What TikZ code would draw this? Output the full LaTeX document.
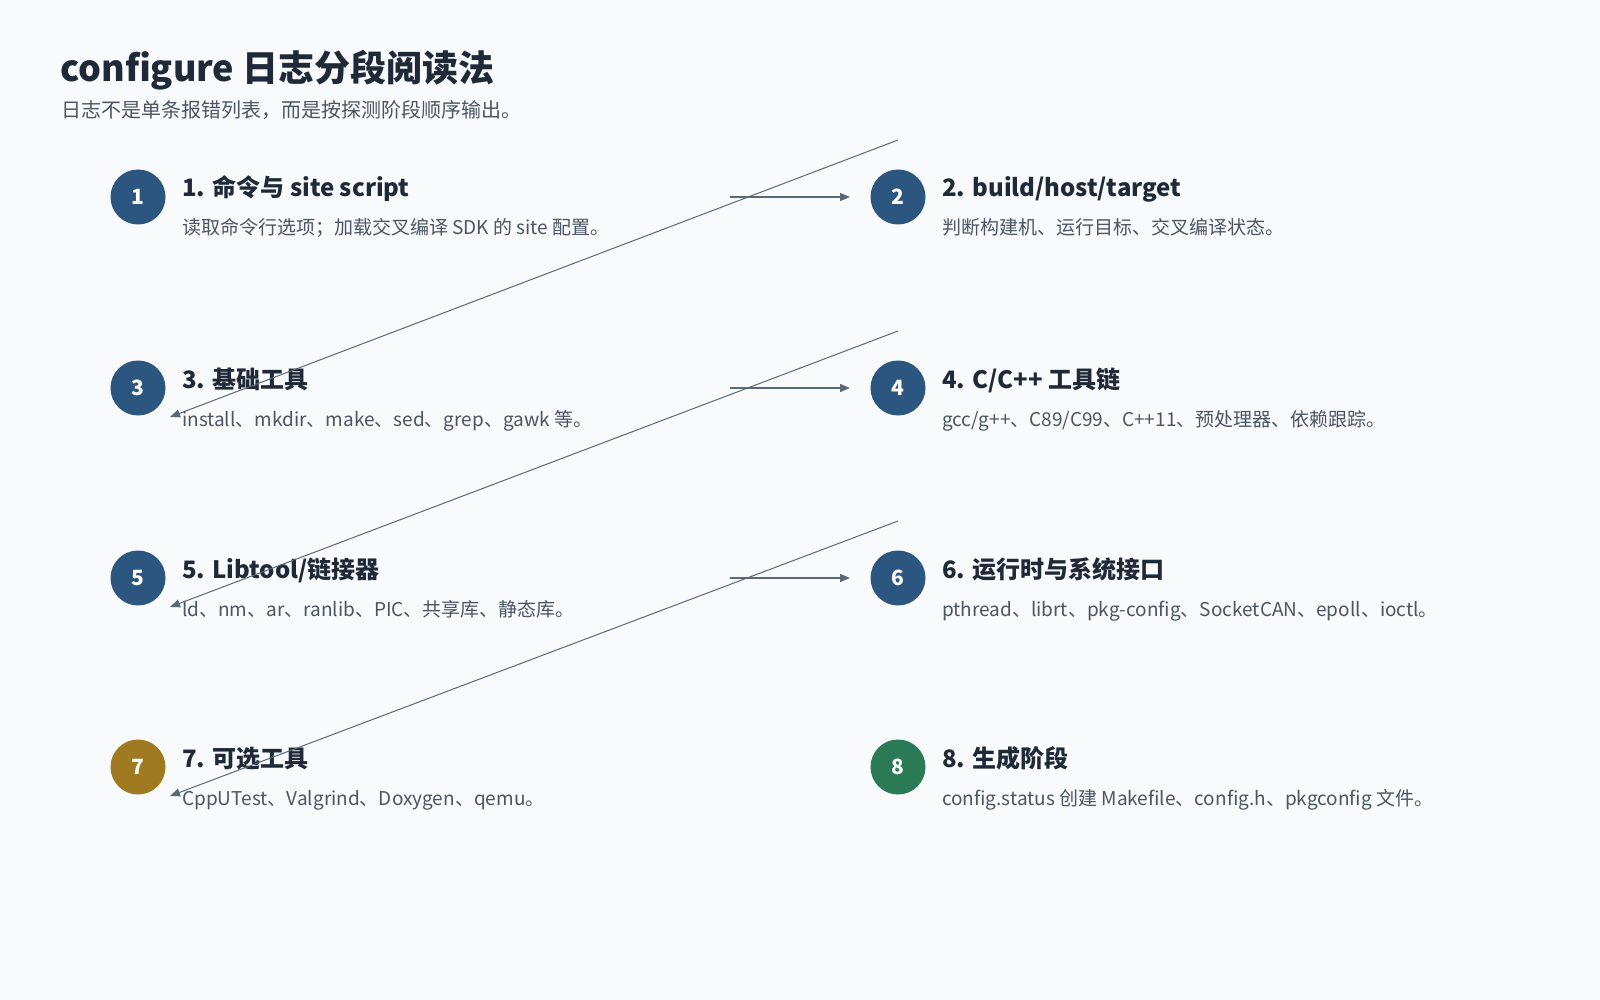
\documentclass[tikz,border=0pt]{standalone}
\usepackage{fontspec}
\setmainfont{Noto Sans CJK SC}
\usetikzlibrary{arrows.meta}
\definecolor{bg}{HTML}{F8FAFC}
\definecolor{cblue}{HTML}{2C5680}
\definecolor{cgold}{HTML}{A07A20}
\definecolor{cgreen}{HTML}{2A7A55}
\definecolor{ttl}{HTML}{1F2937}
\definecolor{dsc}{HTML}{4B5563}
\definecolor{arr}{HTML}{5A6878}
\begin{document}
\begin{tikzpicture}[x=1pt,y=-1pt,
  num/.style={circle,minimum size=55pt,inner sep=0pt,text=white,font=\fontsize{21}{24}\selectfont\bfseries},
  head/.style={anchor=base west,inner sep=0pt,text=ttl,font=\fontsize{24}{28}\selectfont\bfseries},
  desc/.style={anchor=base west,inner sep=0pt,text=dsc,font=\fontsize{19}{22}\selectfont},
  conn/.style={draw=arr,line width=1.3pt,-{Triangle[length=10pt,width=8pt]}},
  diag/.style={draw=arr,line width=1pt,-{Triangle[length=10pt,width=8pt]}}]
\fill[bg] (0,0) rectangle (1600,1000);
\node[anchor=base west,inner sep=0pt,text=ttl,font=\fontsize{36}{40}\selectfont\bfseries] (t) at (60,82) {configure 日志分段阅读法};
\node[anchor=base west,inner sep=0pt,text=dsc,font=\fontsize{20}{24}\selectfont] (st) at (61,118) {日志不是单条报错列表，而是按探测阶段顺序输出。};
% row y: 197, 388, 578, 767
\node[num,fill=cblue] (c1) at (138,197) {1};
\node[num,fill=cblue] (c2) at (898,197) {2};
\node[num,fill=cblue] (c3) at (138,388) {3};
\node[num,fill=cblue] (c4) at (898,388) {4};
\node[num,fill=cblue] (c5) at (138,578) {5};
\node[num,fill=cblue] (c6) at (898,578) {6};
\node[num,fill=cgold] (c7) at (138,767) {7};
\node[num,fill=cgreen] (c8) at (898,767) {8};
\node[head] (h1) at (182,197) {1. 命令与 site script};
\node[desc] (d1) at (182,235) {读取命令行选项；加载交叉编译 SDK 的 site 配置。};
\node[head] (h2) at (942,197) {2. build/host/target};
\node[desc] (d2) at (942,235) {判断构建机、运行目标、交叉编译状态。};
\node[head] (h3) at (182,388) {3. 基础工具};
\node[desc] (d3) at (182,426) {install、mkdir、make、sed、grep、gawk 等。};
\node[head] (h4) at (942,388) {4. C/C++ 工具链};
\node[desc] (d4) at (942,426) {gcc/g++、C89/C99、C++11、预处理器、依赖跟踪。};
\node[head] (h5) at (182,578) {5. Libtool/链接器};
\node[desc] (d5) at (182,616) {ld、nm、ar、ranlib、PIC、共享库、静态库。};
\node[head] (h6) at (942,578) {6. 运行时与系统接口};
\node[desc] (d6) at (942,616) {pthread、librt、pkg-config、SocketCAN、epoll、ioctl。};
\node[head] (h7) at (182,767) {7. 可选工具};
\node[desc] (d7) at (182,805) {CppUTest、Valgrind、Doxygen、qemu。};
\node[head] (h8) at (942,767) {8. 生成阶段};
\node[desc] (d8) at (942,805) {config.status 创建 Makefile、config.h、pkgconfig 文件。};
\draw[conn] ([xshift=592pt]c1.center) -- ([xshift=-48pt]c2.center);
\draw[conn] ([xshift=592pt]c3.center) -- ([xshift=-48pt]c4.center);
\draw[conn] ([xshift=592pt]c5.center) -- ([xshift=-48pt]c6.center);
\draw[diag] ([yshift=57pt]c2.center) -- ([xshift=32pt,yshift=-29pt]c3.center);
\draw[diag] ([yshift=57pt]c4.center) -- ([xshift=32pt,yshift=-29pt]c5.center);
\draw[diag] ([yshift=57pt]c6.center) -- ([xshift=32pt,yshift=-29pt]c7.center);
\end{tikzpicture}
\end{document}
